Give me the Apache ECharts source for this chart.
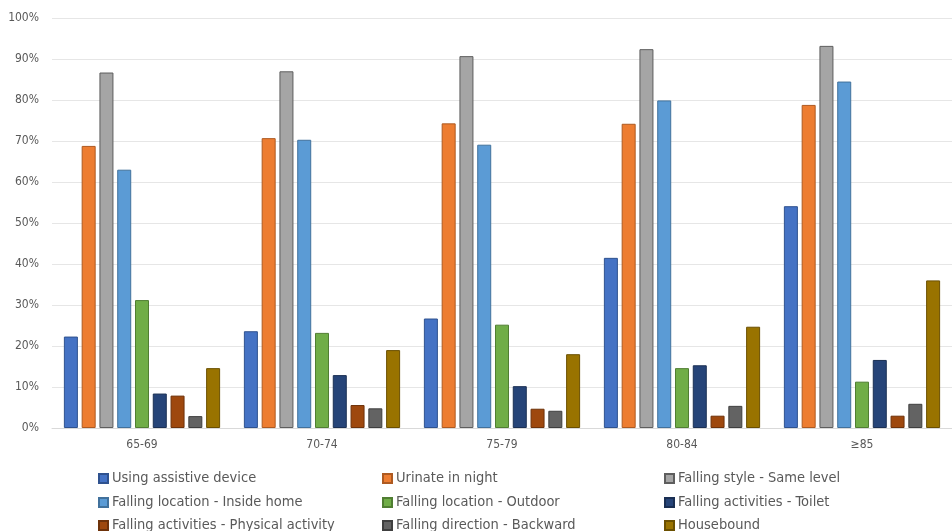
<!DOCTYPE html>
<html>
<head>
<meta charset="utf-8">
<script src="https://cdn.jsdelivr.net/npm/echarts@6/dist/echarts.min.js"></script>
<style>html,body{margin:0;padding:0;background:#fff}#c{width:952px;height:531px}</style>
</head>
<body>
<div id="c"></div>
<script>
const categories = ['65-69', '70-74', '75-79', '80-84', '≥85'];
const seriesNames = [
  'Using assistive device', 'Urinate in night', 'Falling style - Same level',
  'Falling location - Inside home', 'Falling location - Outdoor', 'Falling activities - Toilet',
  'Falling activities - Physical activity', 'Falling direction - Backward', 'Housebound'
];
const usingAssistiveDevice = [22.3, 23.6, 26.7, 41.5, 54.1];
const urinateInNight = [68.8, 70.7, 74.3, 74.2, 78.8];
const fallingSameLevel = [86.7, 87.0, 90.7, 92.4, 93.2];
const fallingInsideHome = [63.0, 70.3, 69.1, 79.9, 84.5];
const fallingOutdoor = [31.2, 23.2, 25.2, 14.6, 11.3];
const fallingToilet = [8.4, 12.9, 10.2, 15.3, 16.6];
const fallingPhysical = [7.9, 5.6, 4.7, 3.0, 3.0];
const fallingBackward = [2.9, 4.8, 4.2, 5.4, 5.9];
const housebound = [14.6, 19.0, 18.0, 24.7, 36.0];
const yTicks = [0, 10, 20, 30, 40, 50, 60, 70, 80, 90, 100];

const allData = [usingAssistiveDevice, urinateInNight, fallingSameLevel, fallingInsideHome,
  fallingOutdoor, fallingToilet, fallingPhysical, fallingBackward, housebound];
const colors = ['#4472C4', '#ED7D31', '#A5A5A5', '#5B9BD5', '#70AD47', '#264478', '#9E480E', '#636363', '#997300'];
const borders = ['#2F528F', '#AE5A21', '#5E5E5E', '#41719C', '#507E32', '#1A2F53', '#6E320A', '#3F3F3F', '#6B5000'];

const chart = echarts.init(document.getElementById('c'), null, {renderer: 'canvas'});
const font = '"Liberation Sans Narrow", "DejaVu Sans Condensed", sans-serif';
const series = seriesNames.map((n, i) => ({
  name: n, type: 'bar', data: allData[i],
  barWidth: 14, barGap: '27%',
  itemStyle: {color: colors[i], borderColor: borders[i], borderWidth: 1},
  emphasis: {disabled: true}
}));
const colLeft = [98, 382, 664];
const rowTop = [471, 495, 518];
const legends = seriesNames.map((n, i) => ({
  data: [n],
  left: colLeft[i % 3], top: rowTop[Math.floor(i / 3)],
  padding: 0,
  itemWidth: 9, itemHeight: 9, icon: 'rect', itemGap: 0,
  textStyle: {fontFamily: font, fontSize: 14.5, color: '#595959', padding: [0, 0, 0, -1]},
  selectedMode: false
}));
chart.setOption({
  animation: false,
  color: colors,
  grid: {left: 52, right: 0, top: 18, bottom: 103},
  legend: legends,
  xAxis: {
    type: 'category', data: categories,
    axisLine: {lineStyle: {color: '#D9D9D9'}},
    axisTick: {show: false},
    axisLabel: {color: '#595959', fontFamily: font, fontSize: 12, margin: 11}
  },
  yAxis: {
    type: 'value', min: 0, max: 100, interval: 10,
    axisLabel: {formatter: v => yTicks.includes(v) ? v + '%' : '', color: '#595959', fontFamily: font, fontSize: 12, margin: 13},
    splitLine: {lineStyle: {color: '#E6E6E6'}},
    axisLine: {show: false}, axisTick: {show: false}
  },
  series: series
});
</script>
</body>
</html>
